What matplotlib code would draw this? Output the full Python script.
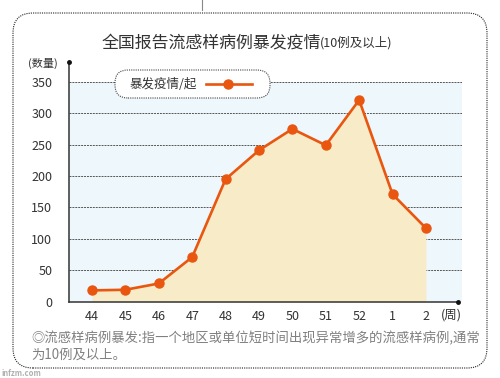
import matplotlib.pyplot as plt
from matplotlib.patches import FancyBboxPatch
from matplotlib.lines import Line2D
from matplotlib.transforms import IdentityTransform

plt.rcParams['font.family'] = ['Noto Sans CJK SC', 'DejaVu Sans']

# data
weeks = ['44', '45', '46', '47', '48', '49', '50', '51', '52', '1', '2']
outbreaks = [18, 19, 29, 71, 195, 241, 275, 249, 321, 171, 117]
y_ticks = [0, 50, 100, 150, 200, 250, 300, 350]

orange = '#e8560f'
beige = '#f8ecc8'
light_blue = '#eef7fc'
text_col = '#333333'

W, H = 500, 378
fig = plt.figure(figsize=(W / 100, H / 100), dpi=100)


def fx(x):
    return x / W


def fy(y):
    return 1 - y / H


def pix(x, y):
    # image pixel (top-left origin) -> display coords
    return x, H - y


# main axes placed in pixels
ax = fig.add_axes([fx(69), fy(301.7), (461.7 - 69) / W, (301.7 - 61.7) / H])
x = list(range(len(weeks)))
ax.set_xlim(-0.689, 11.07)
ax.set_ylim(0, 382)

ax.axhspan(0, 350, color=light_blue, zorder=0, lw=0)
for v in y_ticks[1:]:
    ax.axhline(v, color='#555555', lw=0.7, ls=(0, (2, 1)), zorder=1)
ax.fill_between(x, outbreaks, 0, color=beige, lw=0, zorder=2)
ax.plot(x, outbreaks, color=orange, lw=1.9, marker='o', markersize=6.5,
        zorder=4, clip_on=False)

for s in ['top', 'right']:
    ax.spines[s].set_visible(False)
for s in ['left', 'bottom']:
    ax.spines[s].set_color(text_col)
    ax.spines[s].set_linewidth(1.1)
ax.spines['bottom'].set_bounds(-0.689, 10.96)
ax.plot([10.96], [0], 'o', color='#111111', markersize=2.5, clip_on=False, zorder=5)
ax.plot([-0.689], [382], 'o', color='#111111', markersize=2.5, clip_on=False, zorder=5)

ax.set_xticks(x)
ax.set_xticklabels(weeks)
ax.set_yticks(y_ticks)
ax.tick_params(axis='both', length=0, labelsize=9, colors=text_col)
ax.tick_params(axis='y', pad=12)
ax.tick_params(axis='x', pad=6)

# title
fig.text(fx(102), fy(42), '全国报告流感样病例暴发疫情', fontsize=12.2, color=text_col,
         ha='left', va='center')
fig.text(fx(320), fy(43), '(10例及以上)', fontsize=9, color=text_col,
         ha='left', va='center')

fig.text(fx(43), fy(63), '(数量)', fontsize=8, color=text_col, ha='center', va='center')
fig.text(fx(451), fy(315), '(周)', fontsize=9, color=text_col, ha='center', va='center')

# legend box
lx0, ly0, lx1, ly1 = 115, 70, 270, 98
leg = FancyBboxPatch(pix(lx0, ly1), lx1 - lx0, ly1 - ly0,
                     boxstyle='round,pad=0,rounding_size=13',
                     transform=IdentityTransform(), facecolor='white',
                     edgecolor='#444444', lw=0.8, ls=(0, (1, 1)), zorder=10)
fig.patches.append(leg)
fig.text(fx(130), fy(84), '暴发疫情/起', fontsize=9, color=text_col,
         ha='left', va='center', zorder=11)
fig.lines.append(Line2D([fx(206), fx(252)], [fy(84), fy(84)], transform=fig.transFigure,
                        color=orange, lw=1.9, zorder=11))
fig.lines.append(Line2D([fx(228)], [fy(84)], transform=fig.transFigure, color=orange,
                        marker='o', markersize=6.5, zorder=11))

# outer dotted border
bx0, by0, bx1, by1 = 13, 13, 487, 368
border = FancyBboxPatch(pix(bx0, by1), bx1 - bx0, by1 - by0,
                        boxstyle='round,pad=0,rounding_size=20',
                        transform=IdentityTransform(), facecolor='none',
                        edgecolor='#222222', lw=0.8, ls=(0, (1, 1)), zorder=0)
fig.patches.append(border)

# small vertical line at top
fig.lines.append(Line2D([fx(202), fx(202)], [fy(0), fy(10)], transform=fig.transFigure,
                        color='#888888', lw=0.8))

# footnote
note_col = '#808080'
fig.text(fx(31), fy(338), '◎流感样病例暴发:指一个地区或单位短时间出现异常增多的流感样病例,通常',
         fontsize=9.6, color=note_col, ha='left', va='center')
fig.text(fx(31), fy(355), '为10例及以上。', fontsize=9.6, color=note_col, ha='left', va='center')

fig.text(fx(1), fy(373), 'infzm.com', fontsize=5.5, color='#b0b0b0', ha='left',
         va='center', fontweight='bold')

fig.savefig('out.png', dpi=100)
